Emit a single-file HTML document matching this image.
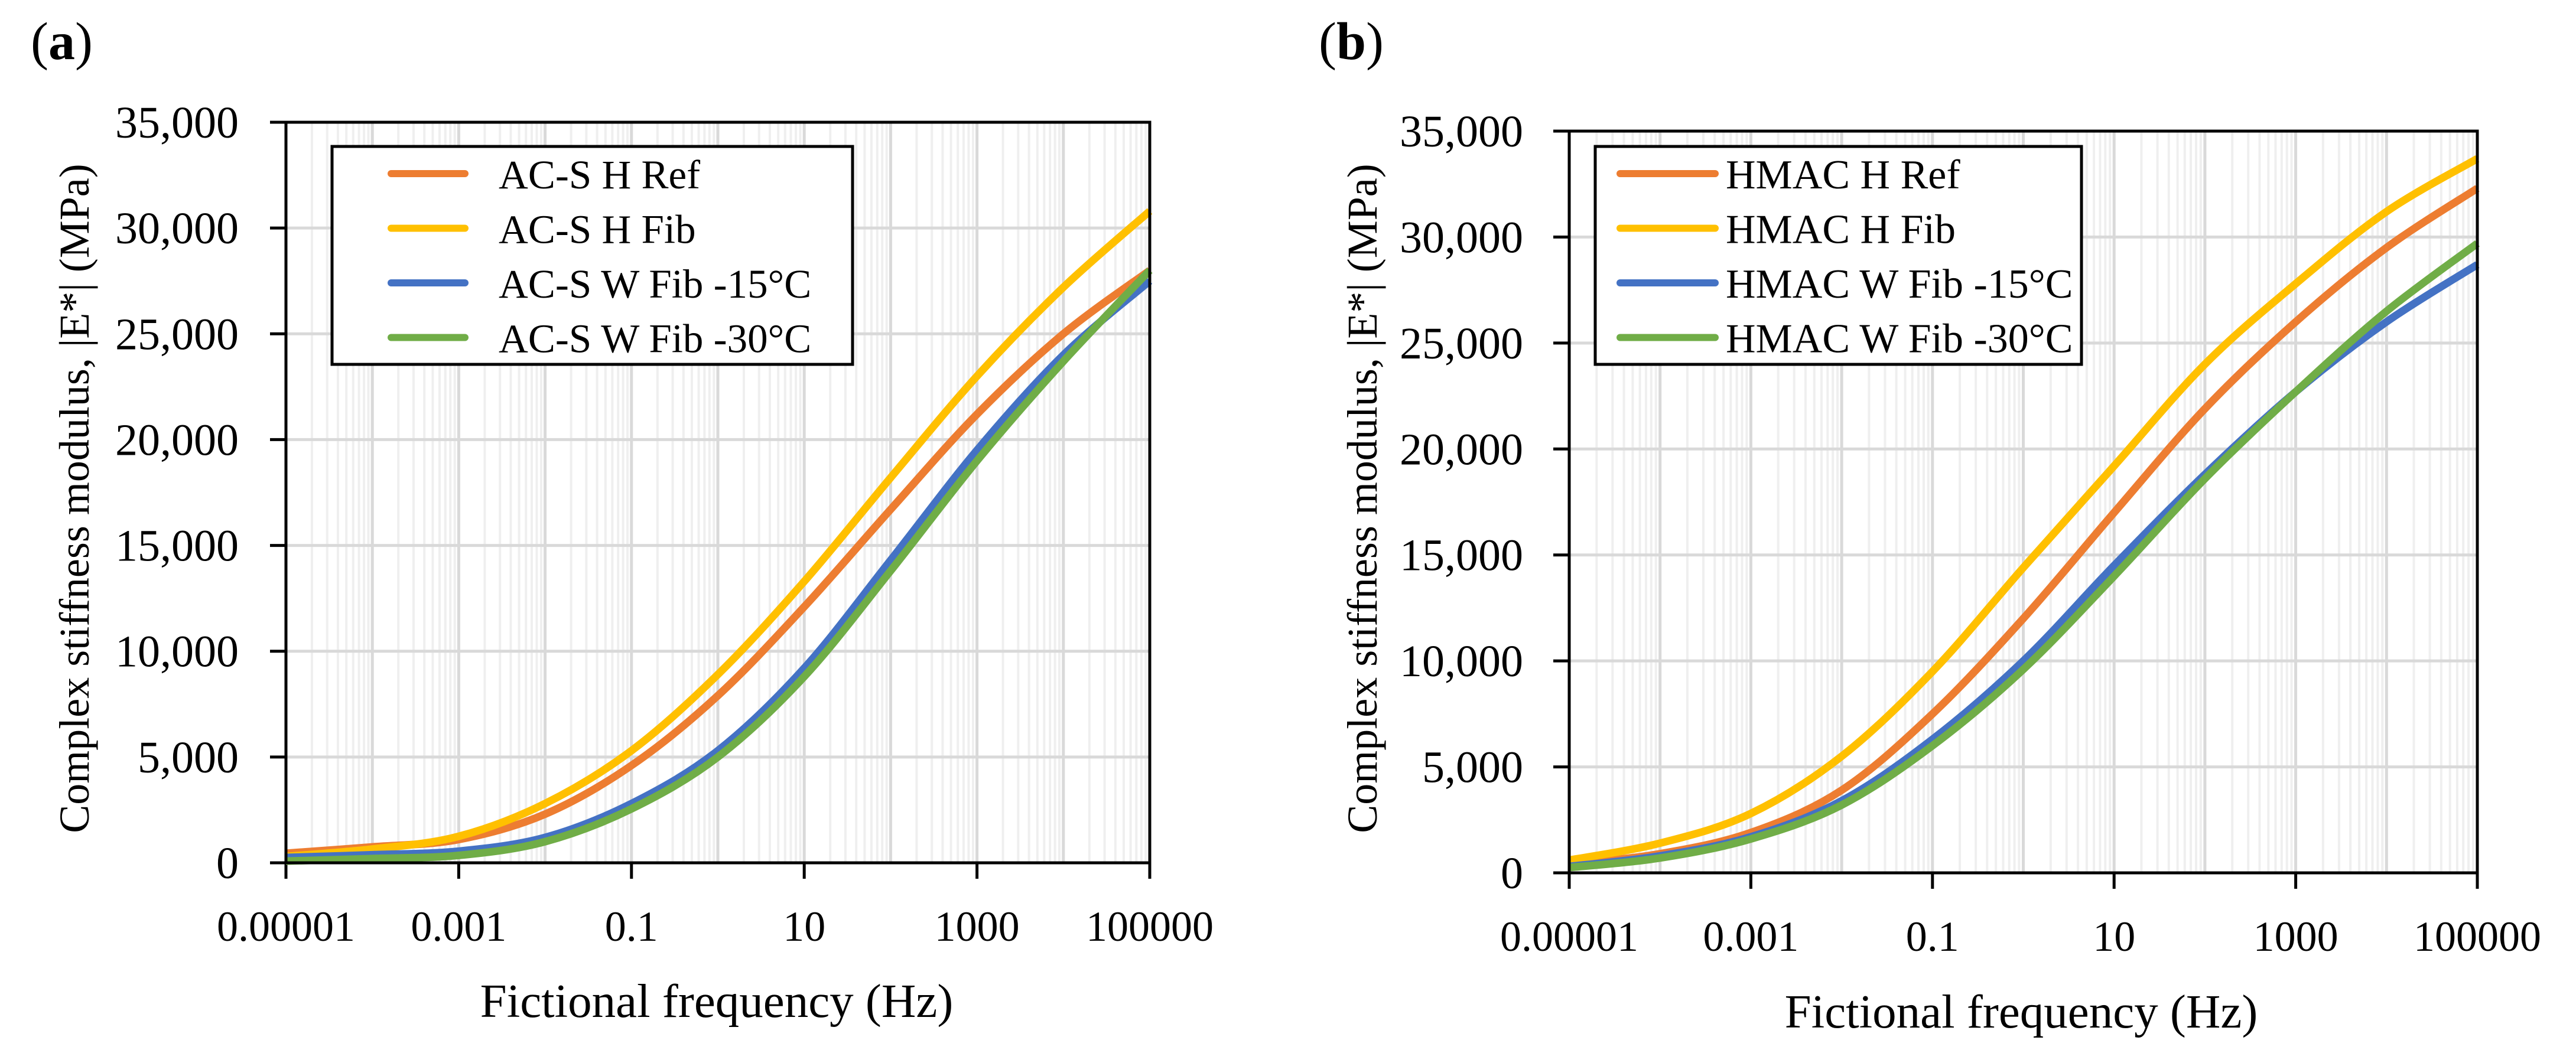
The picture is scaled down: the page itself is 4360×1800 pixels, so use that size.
<!DOCTYPE html>
<html><head><meta charset="utf-8"><style>
html,body{margin:0;padding:0;background:#fff;}
svg{display:block;font-family:"Liberation Serif",serif;}
</style></head><body>
<svg id="chart" width="4360" height="1800" viewBox="0 0 4360 1800" xmlns="http://www.w3.org/2000/svg"></svg>
<script>
const xTickLabels = ["0.00001","0.001","0.1","10","1000","100000"];
const yTickLabels = ["0","5,000","10,000","15,000","20,000","25,000","30,000","35,000"];
const logFreq = [-5,-4,-3,-2,-1,0,1,2,3,4,5];
const seriesColors = ["#ED7D31","#FFC000","#4472C4","#70AD47"];
const aNames = ["AC-S H Ref","AC-S H Fib","AC-S W Fib -15°C","AC-S W Fib -30°C"];
const aRef  = [450,750,1100,2300,4600,7900,12100,16700,21200,25000,28000];
const aFib  = [300,650,1250,2800,5300,8900,13300,18200,23000,27200,30800];
const aW15  = [250,380,550,1200,2800,5300,9200,14300,19500,24000,27500];
const aW30  = [80,200,350,1000,2550,5000,8800,13800,19000,23700,28000];
const bNames = ["HMAC H Ref","HMAC H Fib","HMAC W Fib -15°C","HMAC W Fib -30°C"];
const bRef  = [400,900,1900,3900,7500,12000,17000,21900,26000,29500,32300];
const bFib  = [600,1400,2800,5500,9500,14400,19200,24000,27800,31200,33700];
const bW15  = [300,800,1700,3400,6300,10000,14500,18800,22700,26000,28700];
const bW30  = [250,700,1600,3200,6000,9600,14000,18600,22700,26500,29700];

const NS="http://www.w3.org/2000/svg";
const svg=document.getElementById('chart');
function mk(tag,attrs,parent){const e=document.createElementNS(NS,tag);for(const k in attrs)e.setAttribute(k,attrs[k]);(parent||svg).appendChild(e);return e;}

function panel(cfg){
  const g=mk('g',{});
  
  
  const L=cfg.L,R=cfg.R,T=cfg.T,B=cfg.B;
  const xs=v=>L+(v+5)/10*(R-L);
  const ys=v=>B-v/35000*(B-T);
  for(let d=-5;d<5;d++){for(let m=2;m<=9;m++){
    const x=xs(d+Math.log10(m));
    const ln=mk('line',{x1:x,x2:x,y1:T,y2:B,stroke:'#efefef','stroke-width':4},g);
    
    
  }}
  for(let d=-4;d<5;d++){const x=xs(d);
    const ln=mk('line',{x1:x,x2:x,y1:T,y2:B,stroke:'#d9d9d9','stroke-width':5},g);
    
    
  }
  yTickLabels.forEach((t,i)=>{const y=ys(i*5000);
    if(i>0){const ln=mk('line',{x1:L,x2:R,y1:y,y2:y,stroke:'#d9d9d9','stroke-width':5},g);
      
      }
    const tk=mk('line',{x1:L-27,x2:L,y1:y,y2:y,stroke:'#000','stroke-width':5},g);
    
    
    const tx=mk('text',{x:cfg.ylabX,y:y+26,'text-anchor':'end','font-size':76,fill:'#000'},g);
    tx.textContent=t;
    
    
  });
  xTickLabels.forEach((t,i)=>{const x=xs(-5+2*i);
    const tk=mk('line',{x1:x,x2:x,y1:B,y2:B+27,stroke:'#000','stroke-width':5},g);
    
    
    const tx=mk('text',{x:x,y:cfg.xlabY,'text-anchor':'middle','font-size':72,fill:'#000'},g);
    tx.textContent=t;
    
    
  });
  cfg.series.forEach((s,si)=>{
    const pts=logFreq.map((f,i)=>[xs(f),ys(s[i])]);
    let d='M'+pts[0][0]+','+pts[0][1];
    for(let i=0;i<pts.length-1;i++){
      const p0=pts[Math.max(0,i-1)],p1=pts[i],p2=pts[i+1],p3=pts[Math.min(pts.length-1,i+2)];
      const c1=[p1[0]+(p2[0]-p0[0])/6,p1[1]+(p2[1]-p0[1])/6];
      const c2=[p2[0]-(p3[0]-p1[0])/6,p2[1]-(p3[1]-p1[1])/6];
      d+=' C'+c1[0]+','+c1[1]+' '+c2[0]+','+c2[1]+' '+p2[0]+','+p2[1];
    }
    const p=mk('path',{d:d,fill:'none',stroke:seriesColors[si],'stroke-width':13},g);
    
    
  });
  const ax=mk('path',{d:`M${L},${T} V${B} H${R} V${T} Z`,fill:'none',stroke:'#000','stroke-width':5},g);
  
  
  const ex=mk('line',{x1:L-27,x2:L,y1:T,y2:T,stroke:'#000','stroke-width':5},g);
  
  
  const lg=mk('g',{},g);
  
  
  const lb=mk('rect',{x:cfg.lg[0],y:248,width:cfg.lg[1]-cfg.lg[0],height:369,fill:'#fff',stroke:'#000','stroke-width':5},lg);
  
  
  cfg.names.forEach((n,i)=>{const y=294+i*92.5;
    const ln=mk('line',{x1:cfg.lg[2],x2:cfg.lg[3],y1:y,y2:y,stroke:seriesColors[i],'stroke-width':12,'stroke-linecap':'round'},lg);
    
    
    const tx=mk('text',{x:cfg.lg[4],y:y+25,'font-size':cfg.lgFs,fill:'#000'},lg);
    tx.textContent=n;
    
    
  });
  const yt=mk('text',{x:0,y:0,'text-anchor':'middle','font-size':72,fill:'#000',transform:`translate(${cfg.ytX},844) rotate(-90)`},g);
  yt.textContent='Complex stiffness modulus, |E*| (MPa)';
  
  
  const xt=mk('text',{x:cfg.xtX,y:cfg.xtY,'text-anchor':'middle','font-size':81,fill:'#000'},g);
  xt.textContent='Fictional frequency (Hz)';
  
  
  const pl=mk('text',{x:cfg.plX,y:100,'font-size':90,fill:'#000'},g);
  pl.innerHTML='(<tspan font-weight="bold">'+cfg.id+'</tspan>)';
  
  
}
panel({id:'a',L:484,R:1946,T:207,B:1461,ylabX:404,xlabY:1593,lg:[562,1443,662,787,844],lgFs:69,
  names:aNames,series:[aRef,aFib,aW15,aW30],ytX:150,xtX:1213,xtY:1722,plX:52});
panel({id:'b',L:2656,R:4193,T:222,B:1478,ylabX:2578,xlabY:1610,lg:[2700,3523,2742,2903,2921],lgFs:70,
  names:bNames,series:[bRef,bFib,bW15,bW30],ytX:2330,xtX:3421,xtY:1740,plX:2232});
</script>
</body></html>
